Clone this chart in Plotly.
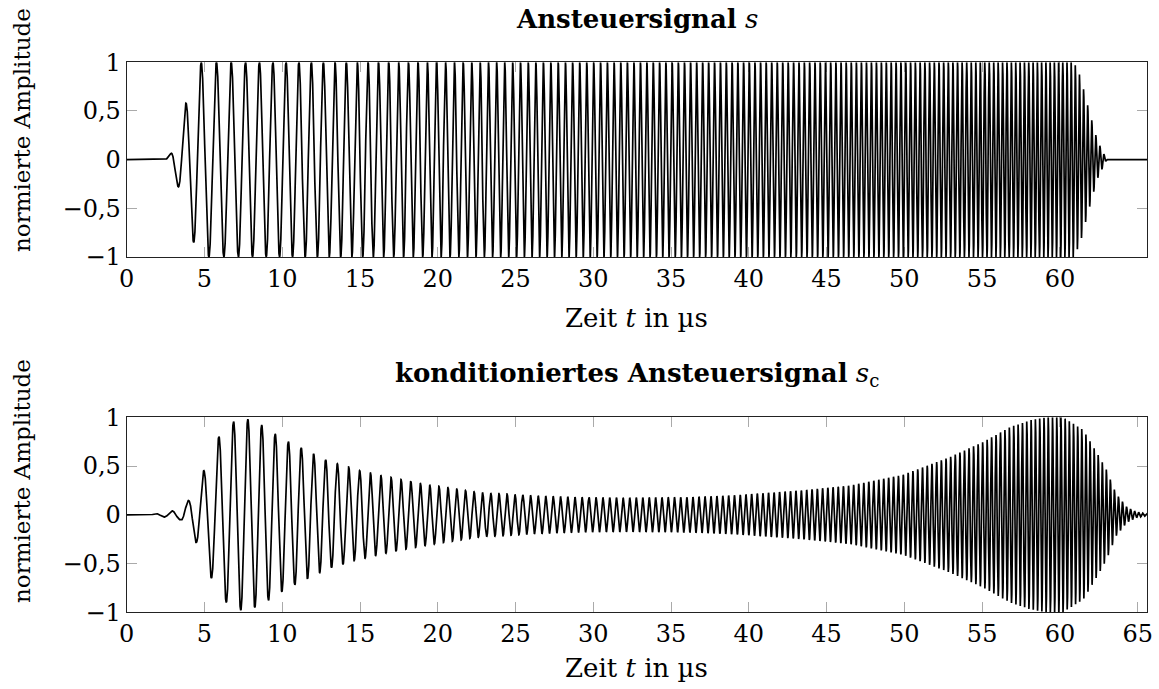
import numpy as np
import plotly.graph_objects as go

# ---------------- data ----------------
# instantaneous frequency of the chirp carrier (MHz) at times (µs)
freq_t = [2.5, 5.3, 10.9, 24.4, 31.5, 60.0, 63.0]
freq_f = [0.95, 1.02, 1.22, 1.95, 2.33, 3.70, 3.85]

# envelope of the drive signal s (time µs, normalised amplitude)
env_s_t = [0.0, 2.45, 2.79, 3.30, 3.83, 4.37, 4.79, 60.9, 61.3, 61.8, 62.4, 63.0, 65.6]
env_s_a = [0.0, 0.0, 0.05, 0.28, 0.60, 0.89, 1.00, 1.00, 0.86, 0.55, 0.20, 0.0, 0.0]

# envelope of the conditioned drive signal s_c
env_c_t = [0.0, 1.5, 1.8, 2.3, 2.85, 3.44, 3.97, 4.47, 5.0, 5.44, 5.95, 6.4, 6.9, 7.35,
           7.8, 8.25, 8.7, 9.1, 9.55, 10.4, 11.2, 11.95, 12.7, 13.4, 14.1, 14.8, 15.5,
           16.2, 16.8, 17.4, 19.4, 22.6, 25.8, 29.0, 32.0, 36.0, 39.1, 43.4, 46.5, 49.9,
           52.9, 55.1, 56.8, 58.1, 59.1, 60.2, 61.5, 62.4, 63.0, 63.6, 64.3, 64.9, 65.6]
env_c_a = [0.0, 0.005, 0.01, 0.02, 0.04, 0.05, 0.15, 0.29, 0.47, 0.65, 0.81, 0.90, 0.96, 0.98,
           0.98, 0.95, 0.92, 0.88, 0.83, 0.75, 0.69, 0.63, 0.57, 0.53, 0.50, 0.46, 0.44,
           0.41, 0.39, 0.37, 0.31, 0.23, 0.20, 0.18, 0.175, 0.18, 0.20, 0.25, 0.30, 0.41,
           0.59, 0.75, 0.90, 0.97, 1.00, 1.00, 0.87, 0.63, 0.46, 0.22, 0.08, 0.03, 0.01]

peak_s = 4.79      # a carrier maximum of s (µs)
delay_c = 0.15     # carrier delay of s_c relative to s (µs)

t_max = 65.6
x_ticks_top = list(range(0, 61, 5))
x_ticks_bot = list(range(0, 66, 5))
y_ticks = [-1, -0.5, 0, 0.5, 1]
y_tick_text = ["\u22121", "\u22120,5", "0", "0,5", "1"]

# ---------------- signal synthesis ----------------
dt = 0.004
t = np.arange(0.0, t_max + dt / 2, dt)
f_inst = np.interp(t, freq_t, freq_f)
phase = 2 * np.pi * np.cumsum(f_inst) * dt
ph0 = np.interp(peak_s, t, phase)
carrier_s = np.sin(phase - ph0 + np.pi / 2)
phase_c = np.interp(t - delay_c, t, phase)
carrier_c = np.sin(phase_c - ph0 + np.pi / 2)

s = np.interp(t, env_s_t, env_s_a) * carrier_s
sc = np.interp(t, env_c_t, env_c_a) * carrier_c

# ---------------- figure ----------------
W, H = 1159, 689
FONT = "DejaVu Serif"
FS = 24

fig = go.Figure()
fig.add_trace(go.Scatter(x=t, y=s, mode="lines", line=dict(color="black", width=1.7),
                         xaxis="x", yaxis="y", showlegend=False, hoverinfo="skip"))
fig.add_trace(go.Scatter(x=t, y=sc, mode="lines", line=dict(color="black", width=1.7),
                         xaxis="x2", yaxis="y2", showlegend=False, hoverinfo="skip"))

xd = [126.7 / W, 1147 / W]
top_dom = [1 - 257 / H, 1 - 62.3 / H]
bot_dom = [1 - 612.3 / H, 1 - 417.3 / H]

axis_common = dict(showline=True, linecolor="#222222", linewidth=1, mirror="allticks",
                   ticks="inside", ticklen=10, tickwidth=1.3, tickcolor="#aaaaaa",
                   showgrid=False, zeroline=False, automargin=False, layer="below traces",
                   tickfont=dict(family=FONT, size=FS, color="black"))

fig.update_layout(
    width=W, height=H, margin=dict(l=0, r=0, t=0, b=0, autoexpand=False),
    paper_bgcolor="white", plot_bgcolor="white",
    font=dict(family=FONT, size=FS, color="black"),
    xaxis=dict(domain=xd, range=[0, t_max], anchor="y", tickvals=x_ticks_top,
               ticktext=[str(v) for v in x_ticks_top], **axis_common),
    yaxis=dict(domain=top_dom, range=[-1, 1], anchor="x", tickvals=y_ticks,
               ticktext=y_tick_text, **axis_common),
    xaxis2=dict(domain=xd, range=[0, t_max], anchor="y2", tickvals=x_ticks_bot,
                ticktext=[str(v) for v in x_ticks_bot], **axis_common),
    yaxis2=dict(domain=bot_dom, range=[-1, 1], anchor="x2", tickvals=y_ticks,
                ticktext=y_tick_text, **axis_common),
)

cx = (xd[0] + xd[1]) / 2
ann = [
    dict(text="<b>Ansteuersignal</b> <i>s</i>", x=cx, y=1 - 19 / H, size=26),
    dict(text="<b>konditioniertes Ansteuersignal</b> <i>s</i><sub>c</sub>", x=cx, y=1 - 375 / H, size=26),
    dict(text="Zeit <i>t</i> in µs", x=cx, y=1 - 318 / H, size=26),
    dict(text="Zeit <i>t</i> in µs", x=cx, y=1 - 668 / H, size=26),
    dict(text="normierte Amplitude", x=22 / W, y=1 - 130 / H, size=23, textangle=-90),
    dict(text="normierte Amplitude", x=22 / W, y=1 - 481 / H, size=23, textangle=-90),
]
for a in ann:
    size = a.pop("size")
    fig.add_annotation(xref="paper", yref="paper", showarrow=False,
                       xanchor="center", yanchor="middle",
                       font=dict(family=FONT, size=size, color="black"), **a)

fig.write_html("out.html")
